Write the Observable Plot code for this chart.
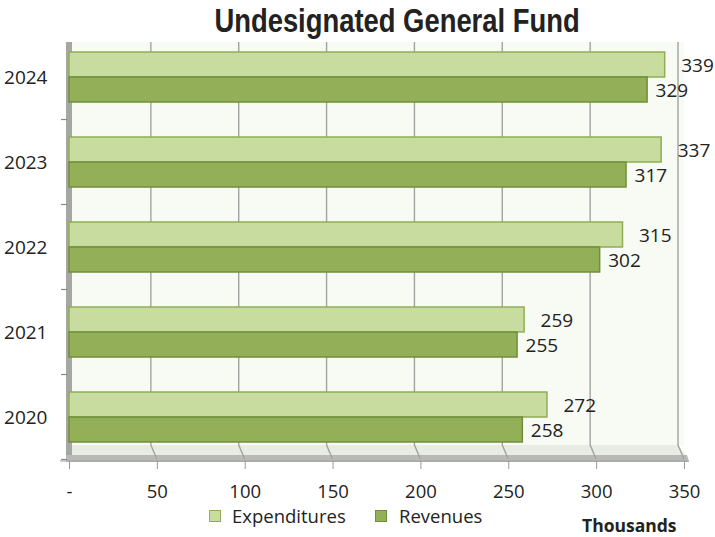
<!DOCTYPE html>
<html>
<head>
<meta charset="utf-8">
<script src="https://cdn.jsdelivr.net/npm/d3@7"></script>
<script src="https://cdn.jsdelivr.net/npm/@observablehq/plot@0.6"></script>
<style>
  body { margin: 0; background: #fff; width: 715px; height: 537px; overflow: hidden; }
  #title { position: relative; height: 30px; width: 715px; box-sizing: border-box; padding-left: 80px;
    text-align: center; font: bold 33px "Liberation Sans", Arial, sans-serif; line-height: 41px; color: #222; white-space: nowrap; }
  #title span { display: inline-block; transform: scaleX(0.83); transform-origin: center; }
  #chart { height: 475px; }
  #legend { position: relative; height: 32px; font-family: "Open Sans", sans-serif; color: #222; }
  .sw { position: absolute; width: 12px; height: 12px; top: 5px; box-sizing: border-box; }
  .lt { position: absolute; top: 2px; font-size: 18.5px; line-height: 17px; white-space: nowrap; }
  #thousands { position: absolute; left: 582px; top: 11px; font: bold 17.5px "Open Sans", sans-serif; line-height: 18px; white-space: nowrap; }
</style>
</head>
<body>
<div id="title"><span>Undesignated General Fund</span></div>
<div id="chart"></div>
<div id="legend"></div>
<script>
const years = ["2024", "2023", "2022", "2021", "2020"];
const expenditures = [339, 337, 315, 259, 272];
const revenues = [329, 317, 302, 255, 258];
const xTicks = [0, 50, 100, 150, 200, 250, 300, 350];
const xTickLabels = ["-", "50", "100", "150", "200", "250", "300", "350"];
const seriesNames = ["Expenditures", "Revenues"];
const seriesColors = ["#c8dc9f", "#93b059"];
const seriesStrokes = ["#8fae56", "#6f8f3b"];

const expData = years.map((y, i) => ({year: y, value: expenditures[i]}));
const revData = years.map((y, i) => ({year: y, value: revenues[i]}));

function decor(index, scales, values, dims) {
  const x = scales.x, y = scales.y;
  const g = d3.create("svg:g");
  const x0 = x(0), x1 = x(350);
  const wallTop = dims.marginTop + 9;
  const bottom = dims.height - dims.marginBottom;
  const floorTop = bottom - 16;
  const floorBot = bottom - 2;
  // back wall
  g.append("rect").attr("x", x0 + 3).attr("y", wallTop).attr("width", x1 - x0 - 3).attr("height", floorTop - wallTop)
    .attr("fill", "#f8faf4");
  // floor surface
  g.append("polygon").attr("points", `${x0 + 3},${floorTop} ${x1 - 6},${floorTop} ${x1 + 5},${floorBot} ${x0 - 3},${floorBot}`)
    .attr("fill", "#e9ece5");
  g.append("polygon").attr("points", `${x0 - 3},${floorBot - 4} ${x1 + 3},${floorBot - 4} ${x1 + 5},${floorBot + 3} ${x0 - 3},${floorBot + 3}`)
    .attr("fill", "#b8bab5");
  // gridlines
  for (const v of xTicks.slice(1)) {
    const xv = x(v);
    g.append("path").attr("d", `M${xv - 6},${wallTop}V${floorTop}L${xv},${floorBot}`)
      .attr("fill", "none").attr("stroke", "#a3a3a3").attr("stroke-width", 1.4);
  }
  // left wall
  g.append("rect").attr("x", x0 - 3).attr("y", wallTop).attr("width", 6).attr("height", floorBot - wallTop - 4)
    .attr("fill", "#a6a6a6");
  g.append("line").attr("x1", x0 - 9).attr("x2", x1 + 5).attr("y1", floorBot + 2).attr("y2", floorBot + 2)
    .attr("stroke", "#a0a0a0").attr("stroke-width", 1.2);
  // y tick marks at band boundaries
  const bw = y.bandwidth();
  const ys = years.map(d => y(d));
  const step = ys[1] - ys[0];
  for (let i = 0; i < years.length; i++) {
    const yy = ys[i] + bw + (step - bw) / 2;
    g.append("line").attr("x1", x0 - 8).attr("x2", x0 - 2).attr("y1", yy).attr("y2", yy)
      .attr("stroke", "#888").attr("stroke-width", 1.2);
  }
  return g.node();
}

const bandInset = 25;

const chart = Plot.plot({
  width: 715,
  height: 475,
  marginLeft: 69,
  marginRight: 31,
  marginTop: 3,
  marginBottom: 44,
  style: {fontFamily: "Open Sans, sans-serif", fontSize: "18.5px", color: "#222", background: "transparent"},
  x: {domain: [0, 350]},
  y: {domain: years, paddingInner: 0.415, paddingOuter: 0.2075},
  marks: [
    decor,
    Plot.barX(expData, {y: "year", x: "value", insetBottom: bandInset, fill: seriesColors[0], stroke: seriesStrokes[0], strokeWidth: 1.5}),
    Plot.barX(revData, {y: "year", x: "value", insetTop: bandInset, fill: seriesColors[1], stroke: seriesStrokes[1], strokeWidth: 1.5}),
    Plot.text(expData, {y: "year", x: "value", text: d => String(d.value), textAnchor: "start", dx: 16, dy: -12, fontSize: 19, fill: "#222"}),
    Plot.text(revData, {y: "year", x: "value", text: d => String(d.value), textAnchor: "start", dx: 8, dy: 13, fontSize: 19, fill: "#222"}),
    Plot.axisY({tickSize: 0, tickPadding: 22, fontSize: 19, label: null}),
    Plot.axisX({ticks: xTicks, tickFormat: (d, i) => xTickLabels[xTicks.indexOf(d)], tickSize: 8, tickPadding: 15, label: null, stroke: "#999"})
  ]
});
document.getElementById("chart").appendChild(chart);

const legend = document.getElementById("legend");
const legendPos = [{sw: 209, t: 232}, {sw: 375, t: 399}];
seriesNames.forEach((name, i) => {
  const s = document.createElement("div");
  s.className = "sw";
  s.style.left = legendPos[i].sw + "px";
  s.style.background = seriesColors[i];
  s.style.border = "1.5px solid " + seriesStrokes[i];
  legend.appendChild(s);
  const t = document.createElement("div");
  t.className = "lt";
  t.style.left = legendPos[i].t + "px";
  t.textContent = name;
  legend.appendChild(t);
});
const th = document.createElement("div");
th.id = "thousands";
th.textContent = "Thousands";
legend.appendChild(th);
</script>
</body>
</html>
